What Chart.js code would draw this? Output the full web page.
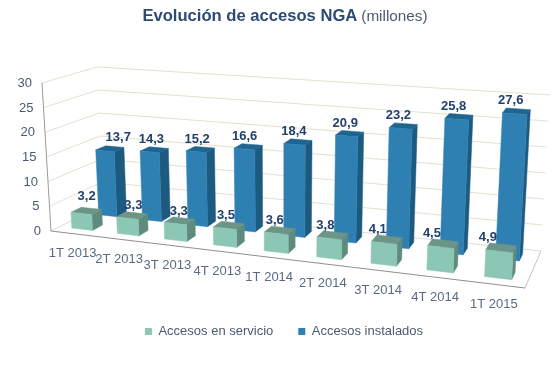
<!DOCTYPE html>
<html><head><meta charset="utf-8">
<style>
html,body{margin:0;padding:0;background:#fff}
#wrap{position:relative;width:560px;height:365px;overflow:hidden}
#title{position:absolute;left:0;top:6px;width:570px;text-align:center;font-family:"Liberation Sans",Arial,sans-serif;font-size:16.6px;line-height:20px;color:#2d4a75;font-weight:bold;white-space:nowrap}
#title span{font-weight:normal;font-size:15.3px;color:#4a5a72}
canvas{display:block}
</style>
<script src="https://cdn.jsdelivr.net/npm/chart.js@4/dist/chart.umd.min.js"></script>
</head><body>
<div id="wrap"><div id="title">Evolución de accesos NGA <span>(millones)</span></div>
<canvas id="c" width="560" height="365"></canvas></div>
<script>
const categories = ['1T 2013','2T 2013','3T 2013','4T 2013','1T 2014','2T 2014','3T 2014','4T 2014','1T 2015'];
const enServicio = [3.2,3.3,3.3,3.5,3.6,3.8,4.1,4.5,4.9];
const instalados = [13.7,14.3,15.2,16.6,18.4,20.9,23.2,25.8,27.6];
const yTicksMax = 30, yTickStep = 5;

const FONT = '"Liberation Sans",Arial,sans-serif';
// corners of the pseudo-3D box
const box = {
  FL0:[51,231], FR0:[525,288], BL0:[103,205], BR0:[541,251],
  FL1:[42,83],  FR1:[534,120], BL1:[97,67],   BR1:[550,95]
};
const lerp=(a,b,t)=>[a[0]+(b[0]-a[0])*t,a[1]+(b[1]-a[1])*t];
const warp=u=>0.85*u+0.15*u*u;
function P(u,d,t){
  const w=warp(u);
  const f=lerp(lerp(box.FL0,box.FR0,w),lerp(box.BL0,box.BR0,w),d);
  const c=lerp(lerp(box.FL1,box.FR1,w),lerp(box.BL1,box.BR1,w),d);
  return lerp(f,c,t);
}
function quad(ctx,pts,fill){
  ctx.beginPath();pts.forEach((p,i)=>i?ctx.lineTo(p[0],p[1]):ctx.moveTo(p[0],p[1]));ctx.closePath();
  ctx.fillStyle=fill;ctx.fill();ctx.strokeStyle=fill;ctx.lineWidth=0.5;ctx.stroke();
}
function line(ctx,a,b,col,lw){ctx.beginPath();ctx.moveTo(a[0],a[1]);ctx.lineTo(b[0],b[1]);ctx.strokeStyle=col;ctx.lineWidth=lw;ctx.stroke();}

const box3d={
  id:'box3d',
  beforeDatasetsDraw(chart){
    const ctx=chart.ctx,y=chart.scales.y;
    ctx.save();
    y.ticks.forEach(t=>{
      const k=(t.value-y.min)/(y.max-y.min);
      const a=P(0,0,k),b=P(0,1,k),c=P(1,1,k);
      if(t.value>0){line(ctx,a,b,'#e3e1cd',1);line(ctx,b,c,'#e3e1cd',1);}
      else{line(ctx,a,b,'#dcdcd2',1);line(ctx,b,c,'#dcdcd2',1);}
      ctx.font='13px '+FONT;ctx.fillStyle='#4a5a72';ctx.textAlign='right';ctx.textBaseline='middle';
      ctx.fillText(String(t.value),a[0]-10,a[1]+0.5);
    });
    line(ctx,P(0,0,0),P(0,0,1),'#9a9a9a',1);
    line(ctx,P(0,0,0),P(1,0,0),'#8f8f8f',1);
    line(ctx,P(1,0,0),P(1,1,0),'#c4c4c4',1);
    const x=chart.scales.x;
    ctx.font='13px '+FONT;ctx.fillStyle='#5a6a82';ctx.textAlign='center';ctx.textBaseline='middle';
    x.getLabels().forEach((lab,i)=>{
      const u=(x.getPixelForValue(i)-x.left)/x.width,p=P(u,0,0);
      ctx.fillText(lab,p[0]-1,p[1]+20);
    });
    ctx.restore();
  },
  beforeDatasetDraw(chart,args){
    const ctx=chart.ctx,x=chart.scales.x,y=chart.scales.y;
    const ds=chart.data.datasets[args.index];
    ctx.save();
    args.meta.data.forEach(el=>{
      const u0=(el.x-el.width/2-x.left)/x.width,u1=(el.x+el.width/2-x.left)/x.width;
      const t=(y.getValueForPixel(el.y)-y.min)/(y.max-y.min);
      const d0=ds.depthFrom,d1=ds.depthTo;
      const fb=P(u0,d0,0),fbr=P(u1,d0,0),ft=P(u0,d0,t),ftr=P(u1,d0,t),
            bbr=P(u1,d1,0),btr=P(u1,d1,t),btl=P(u0,d1,t);
      quad(ctx,[fbr,bbr,btr,ftr],ds.sideColor);
      quad(ctx,[ft,ftr,btr,btl],ds.topColor);
      quad(ctx,[fb,fbr,ftr,ft],ds.backgroundColor);
    });
    ctx.restore();
    return false;
  },
  afterDatasetsDraw(chart){
    const ctx=chart.ctx,x=chart.scales.x,y=chart.scales.y;
    ctx.save();
    ctx.font='bold 13px '+FONT;ctx.fillStyle='#22406e';ctx.textAlign='center';ctx.textBaseline='middle';
    chart.data.datasets.forEach((ds,di)=>{
      chart.getDatasetMeta(di).data.forEach((el,i)=>{
        const u=(el.x-x.left)/x.width;
        const t=(y.getValueForPixel(el.y)-y.min)/(y.max-y.min);
        const p=P(u,ds.depthTo,t);
        const dx=ds.labelDx[0]+ds.labelDx[1]*u;
        const n=i===0?ds.firstLabelNudge:[0,0];
        ctx.fillText(String(ds.data[i]).replace('.',','),p[0]+dx+n[0],p[1]-ds.labelGap+n[1]);
      });
    });
    ctx.restore();
  }
};

new Chart(document.getElementById('c'),{
  type:'bar',
  data:{labels:categories,datasets:[
    {label:'Accesos en servicio',data:enServicio,backgroundColor:'#8cc6b4',sideColor:'#5f8a7e',topColor:'#6c9487',
     depthFrom:0.17,depthTo:0.37,barPercentage:0.46,categoryPercentage:1,labelDx:[-1,-15],labelGap:7,firstLabelNudge:[-3,-5]},
    {label:'Accesos instalados',data:instalados,backgroundColor:'#2f80b2',sideColor:'#1d5a80',topColor:'#1f6590',
     depthFrom:0.68,depthTo:0.87,barPercentage:0.42,categoryPercentage:1,labelDx:[-7.5,0],labelGap:8,firstLabelNudge:[11,-1.5]}
  ]},
  options:{
    responsive:false,animation:false,
    layout:{padding:{left:8,bottom:17}},
    scales:{
      x:{display:false,grid:{display:false},ticks:{autoSkip:false}},
      y:{display:false,min:0,max:yTicksMax,grid:{display:false},ticks:{stepSize:yTickStep}}
    },
    datasets:{bar:{grouped:false}},
    plugins:{
      tooltip:{enabled:false},
      title:{display:false},
      legend:{position:'bottom',labels:{boxWidth:7,boxHeight:7,padding:25,color:'#4a5a72',font:{family:FONT,size:13}}}
    }
  },
  plugins:[box3d]
});
</script>
</body></html>
